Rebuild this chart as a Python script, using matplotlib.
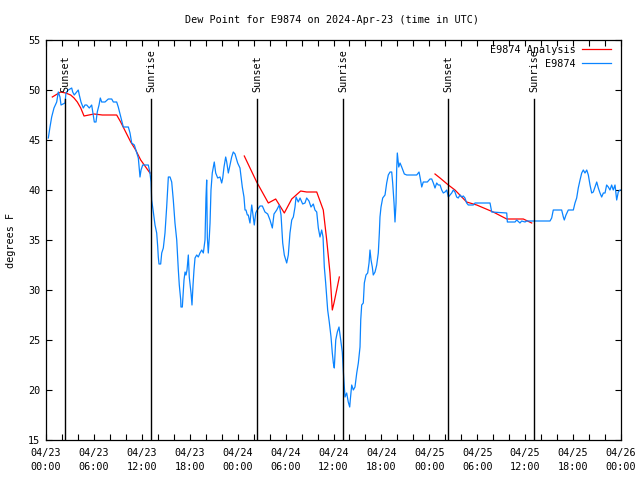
import numpy as np
import pandas as pd
import matplotlib
matplotlib.use("Agg")
import matplotlib.pyplot as plt
import matplotlib.dates as mdates
import matplotlib.transforms as mtransforms

plt.rcParams['font.family'] = ['DejaVu Sans Mono']
FS = 7.3

start = pd.Timestamp('2024-04-23 00:00')
end = pd.Timestamp('2024-04-26 00:00')

# Observed dew point (hours since 2024-04-23 00:00 UTC, degrees F)
obs_hours = [0.29, 0.5, 0.71, 1.0, 1.34, 1.54, 1.75, 1.88, 2.38, 2.5, 2.79, 3.22, 3.34, 3.54, 3.84,
             4.04, 4.17, 4.38, 4.67, 4.88, 5.1, 5.42, 5.72, 5.92, 6.05, 6.26, 6.42, 6.64, 6.8, 6.97,
             7.39, 7.8, 8.23, 8.43, 8.85, 9.05, 9.39, 9.68, 10.31, 10.52, 10.73, 11.06, 11.36, 11.56,
             11.77, 11.9, 12.11, 12.81, 13.02, 13.15, 13.23, 13.44, 13.65, 13.86, 13.99, 14.06, 14.15,
             14.36, 14.49, 14.69, 14.9, 15.11, 15.32, 15.53, 15.74, 15.94, 16.15, 16.37, 16.57, 16.69,
             16.87, 16.9, 17.07, 17.28, 17.41, 17.53, 17.66, 17.74, 17.82, 17.94, 18.16, 18.28, 18.41,
             18.53, 18.66, 18.87, 19.07, 19.28, 19.5, 19.7, 19.91, 20.03, 20.12, 20.2, 20.32, 20.45,
             20.54, 20.66, 20.82, 20.95, 21.07, 21.25, 21.5, 21.79, 22.0, 22.13, 22.29, 22.5, 22.63,
             22.83, 23.04, 23.25, 23.45, 23.67, 24.0, 24.29, 24.5, 24.58, 24.79, 24.92, 25.04, 25.21,
             25.33, 25.54, 25.76, 25.96, 26.08, 26.26, 26.38, 26.8, 27.09, 27.42, 27.76, 28.05, 28.34,
             28.55, 28.89, 29.21, 29.43, 29.64, 29.84, 30.14, 30.34, 30.55, 30.77, 30.97, 31.18, 31.31,
             31.59, 31.81, 32.14, 32.43, 32.64, 32.93, 33.18, 33.47, 33.68, 33.9, 34.1, 34.31, 34.52,
             34.69, 34.85, 35.02, 35.27, 35.47, 35.69, 35.85, 35.98, 36.1, 36.28, 36.48, 36.69, 36.9,
             37.1, 37.19, 37.28, 37.44, 37.65, 37.85, 38.03, 38.1, 38.28, 38.48, 38.69, 38.91, 39.11,
             39.32, 39.41, 39.53, 39.73, 39.86, 40.07, 40.28, 40.45, 40.57, 40.7, 40.86, 40.98, 41.2,
             41.41, 41.61, 41.74, 41.82, 41.95, 42.16, 42.45, 42.66, 42.86, 43.08, 43.29, 43.41, 43.58,
             43.7, 43.83, 43.91, 43.99, 44.17, 44.33, 44.54, 44.87, 45.17, 46.42, 46.71, 46.83, 47.05,
             47.24, 47.75, 48.08, 48.3, 48.5, 48.71, 48.92, 49.12, 49.34, 49.55, 49.75, 49.96, 50.18,
             50.38, 50.59, 50.8, 51.0, 51.21, 51.42, 51.62, 51.84, 52.05, 52.25, 52.46, 52.67, 52.88,
             53.5, 53.72, 55.6, 55.81, 57.69, 57.77, 58.73, 58.94, 59.35, 59.56, 59.98, 60.19, 63.11,
             63.32, 63.52, 64.57, 64.78, 64.9, 65.11, 65.4, 66.03, 66.24, 66.45, 66.65, 66.87, 67.08,
             67.28, 67.49, 67.71, 67.91, 68.12, 68.33, 68.53, 68.75, 68.96, 69.16, 69.37, 69.58, 69.79,
             70.0, 70.2, 70.41, 70.62, 70.83, 71.03, 71.25, 71.46, 71.66, 71.87, 72.0]
obs_vals = [45.2, 46.3, 47.3, 48.2, 48.8, 49.8, 49.3, 48.5, 48.7, 49.7, 50.0, 50.2, 49.8, 49.5, 49.8,
            50.0, 49.5, 48.8, 48.2, 48.5, 48.5, 48.2, 48.5, 47.5, 46.8, 46.8, 47.8, 48.5, 49.2, 48.8,
            48.8, 49.1, 49.1, 48.8, 48.8, 48.3, 47.2, 46.3, 46.3, 45.7, 44.7, 44.5, 43.7, 43.2,
            41.3, 42.0, 42.5, 42.5, 41.7, 40.8, 39.0, 37.8, 36.5, 35.7, 34.3, 33.3, 32.6,
            32.6, 33.7, 34.2, 35.7, 38.3, 41.3, 41.3, 40.8, 39.0, 36.7, 35.0, 32.0, 30.5,
            29.0, 28.3, 28.3, 31.0, 31.8, 31.5, 32.0, 32.8, 33.5, 31.3, 29.7, 28.5, 30.5,
            32.0, 33.2, 33.5, 33.3, 33.7, 34.0, 33.7, 35.0, 39.2, 41.0, 35.3, 33.7, 35.3,
            36.7, 40.0, 41.7, 42.3, 42.8, 41.7, 41.2, 41.3, 40.7, 41.2, 42.3, 43.3, 42.8,
            41.7, 42.5, 43.3, 43.8, 43.6, 42.7, 42.2, 40.8, 40.3, 39.3, 38.0, 38.0, 37.5,
            37.5, 36.7, 38.5, 37.2, 36.5, 37.7, 37.9, 38.4, 38.4, 37.8, 37.6, 37.0, 36.2,
            37.6, 38.0, 38.5, 37.5, 34.7, 33.5, 32.7, 33.5, 35.7, 37.0, 37.3, 38.3, 39.3,
            38.8, 39.2, 38.6, 38.7, 39.2, 38.9, 38.3, 38.6, 38.0, 37.8, 36.2, 35.3, 36.0,
            35.3, 32.3, 30.7, 28.0, 26.8, 25.3, 23.7, 22.7, 22.2, 25.0, 25.8, 26.3, 25.0,
            23.8, 22.5, 21.2, 19.3, 19.7, 18.8, 18.3, 19.0, 20.5, 20.0, 20.3, 21.7, 22.7,
            24.3, 27.0, 28.5, 28.7, 30.7, 31.5, 31.7, 32.7, 34.0, 33.0, 32.3, 31.5, 31.8,
            32.5, 33.7, 35.7, 37.3, 38.3, 39.2, 39.5, 40.7, 41.5, 41.8, 41.8, 40.7, 38.7,
            36.8, 38.7, 42.0, 43.7, 42.3, 42.7, 42.3, 41.6, 41.5, 41.5, 41.8, 41.3, 40.3,
            40.8, 40.8, 41.1, 41.1, 40.7, 40.2, 40.7, 40.5, 40.5, 40.0, 39.7, 39.8, 40.0,
            39.3, 39.5, 39.7, 40.0, 39.8, 39.3, 39.2, 39.5, 39.3, 39.4, 39.2, 38.7, 38.5,
            38.5, 38.7, 38.7, 37.8, 37.7, 36.8, 36.8, 37.0, 36.7, 36.9, 36.8, 36.9, 36.9,
            37.2, 38.0, 38.0, 37.3, 37.0, 37.5, 38.0, 38.0, 38.7, 39.2, 40.2, 41.0, 41.7,
            42.0, 41.7, 42.0, 41.5, 40.5, 39.7, 39.8, 40.3, 40.8, 40.2, 39.7, 39.3, 39.7,
            39.7, 40.5, 40.3, 40.0, 40.5, 40.0, 40.5, 39.0, 39.8, 40.0, 40.0]

# Analysis dew point (NaN separates segments)
nan = float('nan')
ana_hours = [0.79, 1.41, 1.84, 2.47, 3.09, 3.51, 3.92, 4.35, 4.76, 5.38, 6.01, 7.05, 8.85, 9.35,
             9.98, 10.61, 11.23, 11.86, 12.48, 13.02, 13.1,
             24.83, 26.38, 27.84, 28.76, 29.84, 30.77, 31.89, 32.64, 33.9, 34.72, 35.15, 35.56,
             35.85, 36.06, 36.4, 36.73, 36.8,
             48.71, 49.34, 50.38, 51.21, 52.67, 53.93, 56.0, 57.69, 59.77, 60.82]
ana_vals = [49.3, 49.6, 49.8, 49.7, 49.5, 49.2, 48.8, 48.2, 47.4, 47.5, 47.6, 47.5, 47.5, 46.8,
            45.8, 44.8, 44.0, 43.0, 42.3, 41.7, nan,
            43.4, 40.8, 38.7, 39.1, 37.7, 39.1, 39.9, 39.8, 39.8, 38.0, 35.0, 31.7,
            28.0, 28.7, 30.0, 31.3, nan,
            41.6, 41.2, 40.5, 40.0, 38.8, 38.5, 37.8, 37.1, 37.1, 36.7]

event_hours = [2.42, 13.19, 26.45, 37.22, 50.38, 61.15]
event_labels = ['Sunset', 'Sunrise', 'Sunset', 'Sunrise', 'Sunset', 'Sunrise']

title = 'Dew Point for E9874 on 2024-Apr-23 (time in UTC)'
ylabel = 'degrees F'
ana_name = 'E9874 Analysis'
obs_name = 'E9874'

def to_time(hours):
    return start + pd.to_timedelta(np.asarray(hours, dtype=float), unit='h')

fig = plt.figure(figsize=(6.4, 4.8), dpi=100)
ax = fig.add_axes([46/640, 40/480, 575/640, 400/480])

ax.plot(to_time(ana_hours), ana_vals, color='#ff0000', lw=0.9, label=ana_name)
ax.plot(to_time(obs_hours), obs_vals, color='#0a84ff', lw=0.9, label=obs_name)

trans = mtransforms.blended_transform_factory(ax.transData, ax.transAxes)
for h, lab in zip(event_hours, event_labels):
    t = mdates.date2num(to_time([h])[0])
    ax.plot([t, t], [0, 0.853], color='black', lw=1.0, transform=trans, zorder=3)
    ax.text(t, 0.869, lab, rotation=90, ha='center', va='bottom', transform=trans,
            fontsize=FS, color='black')

ax.set_xlim(start, end)
ax.set_ylim(15, 55)
ax.set_yticks(np.arange(15, 56, 5))
ax.xaxis.set_major_locator(mdates.HourLocator(byhour=[0, 6, 12, 18]))
ax.xaxis.set_major_formatter(mdates.DateFormatter('%m/%d\n%H:%M'))
ax.xaxis.set_minor_locator(mdates.HourLocator(interval=2))

ax.tick_params(axis='both', which='both', direction='in', top=True, right=True,
               length=4, width=0.8, labelsize=FS)
ax.tick_params(axis='x', which='major', pad=5.5)
ax.tick_params(axis='y', which='major', pad=4)
for lbl in ax.get_xticklabels():
    lbl.set_linespacing(1.6)
for s in ax.spines.values():
    s.set_linewidth(0.9)

ax.set_ylabel(ylabel, fontsize=FS, labelpad=9)
fig.text(332/640, 1 - 20/480, title, ha='center', va='center', fontsize=FS)

leg = ax.legend(loc='upper right', bbox_to_anchor=(611/640, 1 - 45/480),
                bbox_transform=fig.transFigure, frameon=False, markerfirst=False,
                fontsize=FS, handlelength=2.9, handletextpad=0.6, labelspacing=0.35,
                borderpad=0, borderaxespad=0)

fig.savefig('out.png', dpi=100)
